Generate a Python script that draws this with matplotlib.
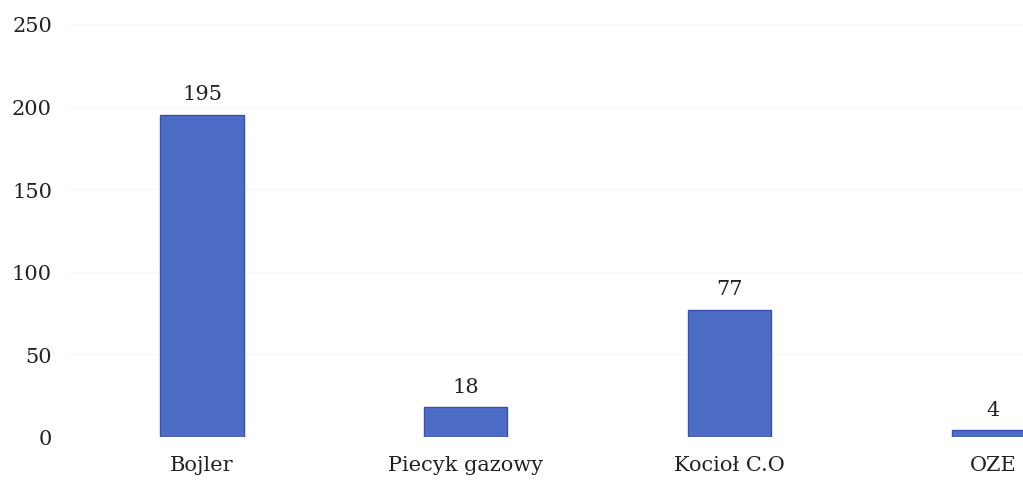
import matplotlib.pyplot as plt

categories = ["Bojler", "Piecyk gazowy", "Kocioł C.O", "OZE"]
values = [195, 18, 77, 4]
yticks = [0, 50, 100, 150, 200, 250]

plt.rcParams['font.family'] = ['DejaVu Serif']

fig = plt.figure(figsize=(10.23, 4.81), dpi=100)
# axes runs off the right edge, like the cropped original
ax = fig.add_axes([70 / 1023, 43 / 481, 1 - 70 / 1023, 413 / 481])

x = list(range(len(categories)))
bars = ax.bar(x, values, width=0.315, color='#4d6cc6', edgecolor='#3b4fae', linewidth=1)

for b, v in zip(bars, values):
    ax.text(b.get_x() + b.get_width() / 2, v + 7, str(v),
            ha='center', va='bottom', fontsize=15, color='#222222')

ax.set_xlim(-0.5006, 3.113)
ax.set_ylim(0, 250)
ax.set_yticks(yticks)
ax.set_xticks(x)
ax.set_xticklabels(categories)
ax.tick_params(axis='both', length=0, labelsize=15, colors='#222222')
ax.tick_params(axis='y', pad=13)
ax.tick_params(axis='x', pad=13)
ax.yaxis.grid(True, color='#f8f8f8', linewidth=1)
ax.set_axisbelow(True)
for s in ax.spines.values():
    s.set_visible(False)

fig.savefig('out.png', dpi=100)
